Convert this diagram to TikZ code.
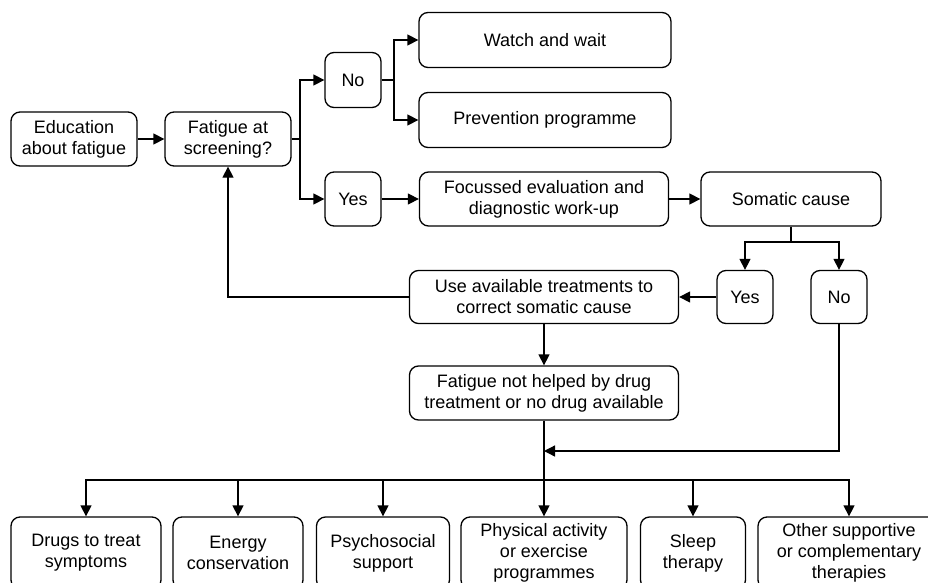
\documentclass[tikz,border=0pt]{standalone}
\usepackage{fontspec}
\setmainfont{Liberation Sans}
\usetikzlibrary{arrows.meta}

\begin{document}
\begin{tikzpicture}[x=1pt, y=-1pt]
	\tikzset{box/.style={draw=black, line width=1.3pt, rounded corners=9pt, align=center, inner sep=0pt, font=\fontsize{18}{21}\selectfont},
		arr/.style={line width=1.3pt, -{Triangle[length=11pt, width=11pt]}},
		ln/.style={line width=1.3pt}};

	\clip (0, 0) rectangle (928, 583);

	\node[box, minimum width=126, minimum height=54] (edu) at (74, 139) {Education\\about fatigue};
	\node[box, minimum width=126, minimum height=54] (scr) at (228, 139) {Fatigue at\\screening?};
	\node[box, minimum width=56, minimum height=55] (no1) at (353, 80) {No};
	\node[box, minimum width=56, minimum height=54] (yes1) at (353, 199) {Yes};
	\node[box, minimum width=252, minimum height=55] (watch) at (545, 40) {Watch and wait};
	\node[box, minimum width=252, minimum height=55] (prev) at (545, 120) {Prevention programme};
	\node[box, minimum width=249, minimum height=54] (focus) at (544, 199) {Focussed evaluation and\\diagnostic work-up};
	\node[box, minimum width=180, minimum height=54] (som) at (791, 199) {Somatic cause};
	\node[box, minimum width=56, minimum height=53] (yes2) at (745, 297) {Yes};
	\node[box, minimum width=56, minimum height=53] (no2) at (839, 297) {No};
	\node[box, minimum width=269, minimum height=53] (use) at (544, 297) {Use available treatments to\\correct somatic cause};
	\node[box, minimum width=269, minimum height=54] (nothelp) at (544, 393) {Fatigue not helped by drug\\treatment or no drug available};

	\node[box, minimum width=150, minimum height=72] (drugs) at (86, 553) {Drugs to treat\\symptoms};
	\node[box, minimum width=130, minimum height=72] (energy) at (238, 553) {Energy\\conservation};
	\node[box, minimum width=133, minimum height=72] (psycho) at (383, 553) {Psychosocial\\support};
	\node[box, minimum width=166, minimum height=72] (phys) at (544, 553) {Physical activity\\or exercise\\programmes};
	\node[box, minimum width=105, minimum height=72] (sleep) at (693, 553) {Sleep\\therapy};
	\node[box, minimum width=182, minimum height=72] (other) at (849, 553) {Other supportive\\or complementary\\therapies};

	\coordinate (sj) at (300, 139);
	\coordinate (nj) at (394, 80);
	\coordinate (cj) at (791, 242);
	\coordinate (mj) at (544, 451);
	\coordinate (bj) at (544, 480);

	\draw[arr] (edu) to (scr);
	\draw[arr] (scr.east) -- (sj) |- (no1);
	\draw[arr] (sj) |- (yes1);

	\draw[arr] (no1) -- (nj) |- (watch);
	\draw[arr] (nj) |- (prev);

	\draw[arr] (yes1) to (focus);
	\draw[arr] (focus) to (som);

	\draw[ln] (som) -- (cj);
	\draw[arr] (cj) -| (yes2);
	\draw[arr] (cj) -| (no2);

	\draw[arr] (yes2) to (use);
	\draw[arr] (use.west) -| (scr);
	\draw[arr] (use) to (nothelp);

	\draw[arr] (no2) |- (mj);
	\draw[ln] (nothelp) -- (bj);

	\foreach \b in {drugs, energy, psycho, phys, sleep, other}
		\draw[arr] (bj) -| (\b);

\end{tikzpicture}
\end{document}
